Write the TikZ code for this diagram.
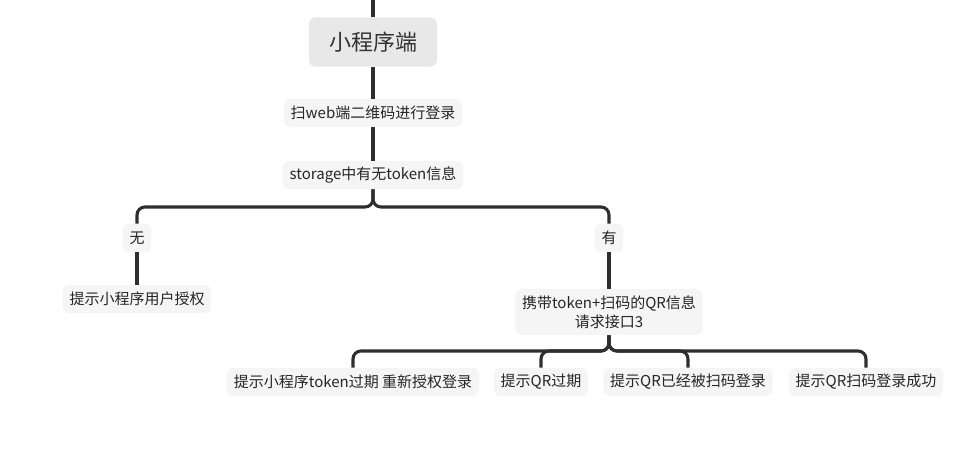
\documentclass[tikz,border=0pt]{standalone}
\usepackage{fontspec}
\setmainfont{Noto Sans CJK SC}
\begin{document}
\begin{tikzpicture}[x=0.75pt,y=-0.75pt,
  topic/.style={fill=black!9,rounded corners=5pt,minimum width=96pt,minimum height=37pt,font=\fontsize{16.5}{18}\selectfont,text=black!80},
  leaf/.style={fill=black!4,rounded corners=4pt,inner xsep=5pt,minimum height=21pt,font=\fontsize{11.25}{14}\selectfont,text=black!85,align=center},
  conn/.style={line width=2.3pt,draw=black!82,rounded corners=6pt}]
\useasboundingbox (0,0) rectangle (958,450);
\coordinate (top) at (373,0);
\node (root) [topic] at (373,42) {小程序端};
\node (scan) [leaf] at (373,113) {扫web端二维码进行登录};
\node (stor) [leaf] at (373,175) {storage中有无token信息};
\node (no) [leaf] at (137,238) {无};
\node (yes) [leaf] at (609,238) {有};
\node (auth) [leaf] at (137,299) {提示小程序用户授权};
\node (req) [leaf,inner ysep=5pt] at (609,312) {携带token+扫码的QR信息\\请求接口3};
\node (exp) [leaf] at (353,382) {提示小程序token过期 重新授权登录};
\node (qrx) [leaf] at (541,382) {提示QR过期};
\node (used) [leaf] at (688,382) {提示QR已经被扫码登录};
\node (ok) [leaf] at (866,382) {提示QR扫码登录成功};
% connectors
\draw[conn] (top) -- (root);
\draw[conn] (root) -- (scan);
\draw[conn] (scan) -- (stor);
\foreach \c in {no,yes}
  \draw[conn] (stor) -- (stor |- 0,207) -| (\c);
\draw[conn] (no) -- (auth);
\draw[conn] (yes) -- (req);
\foreach \c in {exp,qrx,used,ok}
  \draw[conn] (req) -- (req |- 0,351) -| (\c);
\end{tikzpicture}
\end{document}
